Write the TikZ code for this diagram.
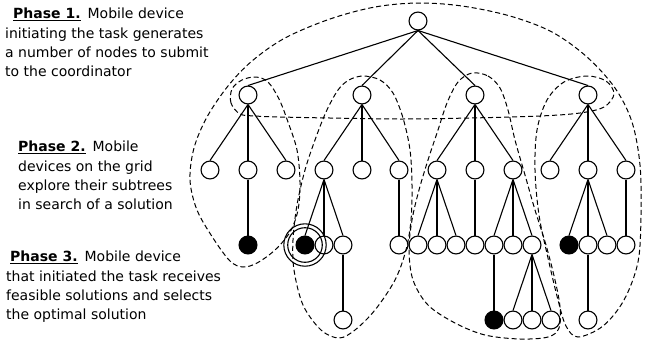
\documentclass[tikz,border=0pt]{standalone}
\usepackage{fontspec}
\setmainfont{DejaVu Sans}
\usepackage{tikz}
\usetikzlibrary{positioning}

\newcommand{\phasetag}[1]{\setbox0\hbox{\textbf{Phase #1.}}\rlap{\rule[-2.6pt]{\wd0}{1.3pt}}\box0}

\begin{document}
\begin{tikzpicture}[x=1pt, y=-1pt, font=\fontsize{14}{19.3}\selectfont]
  % ------- styles -------
  \tikzstyle{vtx}=[draw, circle, line width=1.1pt, fill=white, minimum size=17.9pt, inner sep=0pt]
  \tikzstyle{sol}=[vtx, fill=black]
  \tikzstyle{edge}=[line width=1.1pt]
  \tikzstyle{phase}=[dash pattern=on 5pt off 3pt, line width=1pt]
  \tikzstyle{note}=[align=left, anchor=north west, inner sep=0pt]

  \useasboundingbox (0,0) rectangle (651,341);

  % ------- texts -------
  \node[note] (p1) at (5,8) {\hspace*{8pt}\phasetag{1}\enspace Mobile device\\initiating the task generates\\a number of nodes to submit\\to the coordinator};
  \node[note] (p2) at (18,141) {\phasetag{2}\enspace Mobile\\devices on the grid\\explore their subtrees\\in search of a solution};
  \node[note] (p3) at (6,251) {\hspace*{4pt}\phasetag{3}\enspace Mobile device\\that initiated the task receives\\feasible solutions and selects\\the optimal solution};

  % ------- nodes -------
  \node[vtx] (r) at (418,21) {};
  \node[vtx] (a1) at (248,95) {};
  \node[vtx] (a2) at (362,95) {};
  \node[vtx] (a3) at (475,95) {};
  \node[vtx] (a4) at (588,95) {};

  % level 2
  \node[vtx] (b11) at (210,170) {};
  \node[vtx] (b12) at (248,170) {};
  \node[vtx] (b13) at (286,170) {};
  \node[vtx] (b21) at (324,170) {};
  \node[vtx] (b22) at (362,170) {};
  \node[vtx] (b23) at (399,170) {};
  \node[vtx] (b31) at (437,170) {};
  \node[vtx] (b32) at (475,170) {};
  \node[vtx] (b33) at (513,170) {};
  \node[vtx] (b41) at (550,170) {};
  \node[vtx] (b42) at (588,170) {};
  \node[vtx] (b43) at (626,170) {};

  % level 3
  \node[sol] (c12) at (248,245) {};
  \node[sol] (c210) at (305,245) {};
  \node[vtx, right=0pt of c210] (c211) {};
  \node[vtx, right=0pt of c211] (c212) {};
  \node[vtx] (c23) at (399,245) {};
  \node[vtx, right=0pt of c23] (c311) {};
  \node[vtx, right=0pt of c311] (c312) {};
  \node[vtx, right=0pt of c312] (c313) {};
  \node[vtx, right=0pt of c313] (c32) {};
  \node[vtx, right=0pt of c32] (c331) {};
  \node[vtx, right=0pt of c331] (c332) {};
  \node[vtx, right=0pt of c332] (c333) {};
  \node[sol] (c421) at (569,245) {};
  \node[vtx, right=0pt of c421] (c422) {};
  \node[vtx, right=0pt of c422] (c423) {};
  \node[vtx, right=0pt of c423] (c43) {};

  % level 4
  \node[vtx] (d212) at (343,320) {};
  \node[sol] (d331) at (494,320) {};
  \node[vtx, right=0pt of d331] (d3331) {};
  \node[vtx, right=0pt of d3331] (d3332) {};
  \node[vtx, right=0pt of d3332] (d3333) {};
  \node[vtx] (d422) at (588,320) {};

  % the chosen solution
  \draw[edge] (c210) circle[radius=17.3pt] (c210) circle[radius=21.2pt];

  % ------- edges -------
  \draw[edge] (r.south) -- (a1.north);
  \draw[edge] (r.south) -- (a2.north);
  \draw[edge] (r.south) -- (a3.north);
  \draw[edge] (r.south) -- (a4.north);
  \draw[edge] (a1.south) -- (b11.north);
  \draw[edge] (a1.south) -- (b12.north);
  \draw[edge] (a1.south) -- (b13.north);
  \draw[edge] (a2.south) -- (b21.north);
  \draw[edge] (a2.south) -- (b22.north);
  \draw[edge] (a2.south) -- (b23.north);
  \draw[edge] (a3.south) -- (b31.north);
  \draw[edge] (a3.south) -- (b32.north);
  \draw[edge] (a3.south) -- (b33.north);
  \draw[edge] (a4.south) -- (b41.north);
  \draw[edge] (a4.south) -- (b42.north);
  \draw[edge] (a4.south) -- (b43.north);
  \draw[edge] (b12.south) -- (c12.north);
  \draw[edge] (b21.south) -- (c210.north);
  \draw[edge] (b21.south) -- (c211.north);
  \draw[edge] (b21.south) -- (c212.north);
  \draw[edge] (b23.south) -- (c23.north);
  \draw[edge] (b31.south) -- (c311.north);
  \draw[edge] (b31.south) -- (c312.north);
  \draw[edge] (b31.south) -- (c313.north);
  \draw[edge] (b32.south) -- (c32.north);
  \draw[edge] (b33.south) -- (c331.north);
  \draw[edge] (b33.south) -- (c332.north);
  \draw[edge] (b33.south) -- (c333.north);
  \draw[edge] (b42.south) -- (c421.north);
  \draw[edge] (b42.south) -- (c422.north);
  \draw[edge] (b42.south) -- (c423.north);
  \draw[edge] (b43.south) -- (c43.north);
  \draw[edge] (c212.south) -- (d212.north);
  \draw[edge] (c331.south) -- (d331.north);
  \draw[edge] (c333.south) -- (d3331.north);
  \draw[edge] (c333.south) -- (d3332.north);
  \draw[edge] (c333.south) -- (d3333.north);
  \draw[edge] (c422.south) -- (d422.north);

  % ------- phase regions -------
  % root, first level and the two outer subtrees
  \draw[phase] plot[smooth cycle, tension=0.55] coordinates {
    (240,114) (231,103) (232,89) (242,80) (256,77) (268,82) (279,99) (288,122)
    (297,150) (300,182) (298,210) (290,232) (275,250) (257,263) (243,267)
    (230,261) (213,238) (197,210) (190,180) (194,148) (207,117) (228,86)
    (252,61) (285,38) (330,19) (375,7) (418,3) (462,6) (510,16) (552,32)
    (587,57) (615,88) (632,122) (640,165) (641,215) (638,262) (624,300)
    (603,326) (578,337) (566,326) (558,300) (548,258) (539,215) (535,170)
    (537,130) (547,100) (564,82) (587,76) (606,81) (614,94) (604,107)
    (580,113) (540,116) (470,118) (400,119) (330,118) (280,117) (255,116)};
  % second subtree
  \draw[phase] plot[smooth cycle, tension=0.55] coordinates {
    (363,76) (380,80) (393,93) (403,118) (410,150) (412,185) (411,220)
    (406,250) (395,280) (375,310) (355,330) (339,338) (321,330) (303,305)
    (294,270) (293,240) (297,205) (305,170) (315,140) (326,112) (338,90)
    (349,80)};
  % third subtree
  \draw[phase] plot[smooth cycle, tension=0.55] coordinates {
    (472,73) (488,76) (500,88) (508,110) (515,140) (525,175) (535,210)
    (546,245) (555,280) (560,307) (559,328) (548,337) (520,339) (485,335)
    (455,323) (428,305) (413,280) (409,250) (412,220) (419,190) (428,160)
    (438,130) (447,103) (458,82)};
\end{tikzpicture}
\end{document}
